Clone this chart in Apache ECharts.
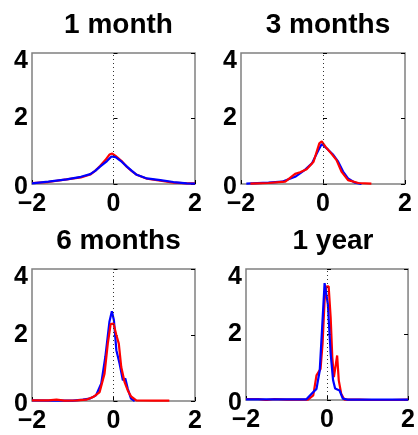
<!DOCTYPE html>
<html><head><meta charset="utf-8">
<script src="https://cdn.jsdelivr.net/npm/echarts@6/dist/echarts.min.js"></script>
<style>html,body{margin:0;padding:0;background:#fff}#c{width:418px;height:435px}</style>
</head><body><div id="c"></div>
<script>
var titles = ["1 month", "3 months", "6 months", "1 year"];
var xTicks = [-2, 0, 2];
var yTicks = [0, 2, 4];

var m1Red  = [[-2,0.03],[-1.6,0.06],[-1.15,0.14],[-0.8,0.2],[-0.57,0.29],[-0.45,0.4],[-0.33,0.55],[-0.2,0.73],[-0.1,0.9],[-0.03,0.93],[0.05,0.86],[0.2,0.7],[0.33,0.52],[0.45,0.39],[0.57,0.28],[0.82,0.16],[1.15,0.1],[1.47,0.04],[1.8,0.02],[2,0.02]];
var m1Blue = [[-2,0.02],[-1.6,0.07],[-1.15,0.14],[-0.8,0.22],[-0.57,0.3],[-0.45,0.4],[-0.33,0.53],[-0.16,0.7],[-0.05,0.84],[0.05,0.82],[0.2,0.68],[0.33,0.53],[0.45,0.4],[0.57,0.28],[0.82,0.17],[1.15,0.12],[1.47,0.06],[1.8,0.02],[2,0.01]];

var m3Red  = [[-1.77,0.01],[-1.33,0.03],[-0.92,0.07],[-0.68,0.31],[-0.56,0.36],[-0.4,0.45],[-0.23,0.68],[-0.09,1.24],[-0.03,1.3],[0.06,1.14],[0.21,0.92],[0.33,0.73],[0.45,0.38],[0.61,0.12],[0.86,0.03],[1.18,0.01]];
var m3Blue = [[-1.87,0.01],[-1.33,0.04],[-1.0,0.07],[-0.68,0.22],[-0.44,0.43],[-0.27,0.63],[-0.11,1.04],[-0.03,1.22],[0.01,1.27],[0.13,1.04],[0.25,0.89],[0.37,0.68],[0.49,0.38],[0.61,0.17],[0.78,0.04],[0.94,0.0]];

var m6Red  = [[-2,0.02],[-1.6,0.02],[-1.4,0.04],[-1.2,0.01],[-0.9,0.02],[-0.67,0.04],[-0.5,0.12],[-0.34,0.27],[-0.22,0.83],[-0.14,1.74],[-0.07,2.33],[0,2.35],[0.07,2.0],[0.13,1.74],[0.19,1.03],[0.27,0.58],[0.35,0.32],[0.43,0.14],[0.56,0.02],[1.0,0.01],[1.37,0.01]];
var m6Blue = [[-2,0.02],[-1.5,0.01],[-1.0,0.01],[-0.75,0.04],[-0.59,0.07],[-0.43,0.17],[-0.3,0.53],[-0.2,1.34],[-0.1,2.4],[-0.04,2.72],[0.01,2.45],[0.07,1.54],[0.15,1.13],[0.23,0.63],[0.29,0.68],[0.35,0.37],[0.43,0.07],[0.52,0.0]];

var y1Red  = [[-2,0.03],[-1.7,0.03],[-1.5,0.0],[-1.3,0.03],[-1,0.01],[-0.47,0.01],[-0.34,0.14],[-0.26,0.75],[-0.22,0.75],[-0.16,0.95],[-0.11,1.72],[-0.06,3.04],[-0.02,3.46],[0.04,3.47],[0.09,2.52],[0.13,1.31],[0.17,0.7],[0.21,0.7],[0.25,1.36],[0.29,0.6],[0.35,0.19],[0.43,0.01],[0.8,0.01],[1.1,0.0],[1.6,0.0],[2,0.01]];
var y1Blue = [[-2,0.02],[-1.5,0.02],[-1,0.02],[-0.51,0.02],[-0.38,0.19],[-0.26,0.34],[-0.18,0.9],[-0.12,2.22],[-0.06,3.57],[0.02,2.93],[0.09,1.41],[0.15,0.6],[0.2,0.35],[0.31,0.29],[0.39,0.04],[0.51,0.01],[1,0.01],[1.5,0.01],[2,0.01]];

var panelData = [[m1Red, m1Blue, true], [m3Red, m3Blue, false], [m6Red, m6Blue, false], [y1Red, y1Blue, true]];
var grids = [
  {left:32, top:53, width:163, height:131},
  {left:241, top:53, width:164, height:131},
  {left:32, top:269, width:163, height:132},
  {left:246, top:269, width:164, height:131}
];

var FONT = '"Liberation Sans", Arial, sans-serif';
var FS = 25;
var option = {backgroundColor:'#fff', animation:false, title:[], grid:[], xAxis:[], yAxis:[], series:[]};
grids.forEach(function(g, i){
  option.grid.push({left:g.left, top:g.top, width:g.width, height:g.height, show:true, borderColor:'#808080', borderWidth:1.5, backgroundColor:'transparent'});
  option.title.push({text:titles[i], left:g.left + g.width/2, top:g.top - 47, textAlign:'center',
    textStyle:{fontFamily:FONT, fontWeight:'bold', fontSize:28, color:'#000'}});
  option.xAxis.push({type:'value', gridIndex:i, min:xTicks[0], max:xTicks[2], interval:2,
    axisLine:{show:false}, splitLine:{show:false},
    axisTick:{show:true, inside:true, length:4, lineStyle:{color:'#000'}},
    axisLabel:{margin:8, fontFamily:FONT, fontWeight:'bold', fontSize:FS, color:'#000',
      formatter:function(v){ return v < 0 ? '\u2212' + Math.abs(v) : String(v); }}});
  option.yAxis.push({type:'value', gridIndex:i, min:yTicks[0], max:yTicks[2], interval:2,
    axisLine:{show:false}, splitLine:{show:false},
    axisTick:{show:true, inside:true, length:4, lineStyle:{color:'#000'}},
    axisLabel:{margin:4, fontFamily:FONT, fontWeight:'bold', fontSize:FS, color:'#000',
      formatter:function(v){ if(v===4) return '{t|4}'; if(v===0) return '{z|0}'; return String(v); },
      rich:{t:{fontFamily:FONT, fontWeight:'bold', fontSize:FS, color:'#000', padding:[16,0,0,0]},
            z:{fontFamily:FONT, fontWeight:'bold', fontSize:FS, color:'#000', padding:[6,0,0,0]}}}});
  option.yAxis.push({type:'value', gridIndex:i, position:'right', min:yTicks[0], max:yTicks[2], interval:2,
    axisLine:{show:false}, splitLine:{show:false}, axisLabel:{show:false},
    axisTick:{show:true, inside:true, length:4, lineStyle:{color:'#000'}}});
  var red = {type:'line', xAxisIndex:i, yAxisIndex:2*i, data:panelData[i][0], showSymbol:false, symbol:'none',
    lineStyle:{color:'#ff0000', width:2.2}, silent:true};
  var blue = {type:'line', xAxisIndex:i, yAxisIndex:2*i, data:panelData[i][1], showSymbol:false, symbol:'none',
    lineStyle:{color:'#0000ff', width:2.2}, silent:true};
  var dot = {type:'line', xAxisIndex:i, yAxisIndex:2*i, data:[], silent:true,
    markLine:{silent:true, symbol:['none','none'], label:{show:false},
      lineStyle:{type:[1,3], color:'#333', width:1},
      data:[[{coord:[0,0]},{coord:[0,4]}]]}};
  option.series.push(dot);
  if(panelData[i][2]){ option.series.push(red, blue); } else { option.series.push(blue, red); }
});
echarts.init(document.getElementById('c'), null, {renderer:'canvas'}).setOption(option);
</script></body></html>
